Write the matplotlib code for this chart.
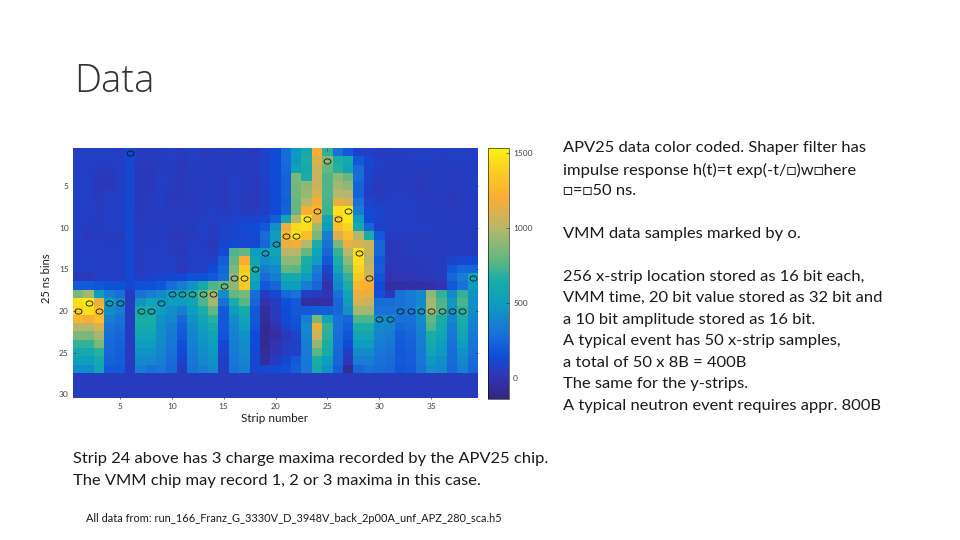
import numpy as np
import matplotlib
matplotlib.use('Agg')
import matplotlib.pyplot as plt
from matplotlib.colors import LinearSegmentedColormap
from matplotlib.markers import MarkerStyle
from matplotlib.transforms import Affine2D

plt.rcParams['font.family'] = ['Lato', 'DejaVu Sans']

# APV25 charge per time bin (rows) and strip (columns)
row_01 = [70,70,70,70,70,120,50,50,60,70,50,70,50,50,50,60,60,40,90,150,280,480,600,1200,700,300,200,90,70,60,60,70,70,70,70,70,70,70,70]
row_02 = [70,70,70,70,70,120,50,50,60,70,40,70,50,50,60,60,60,50,100,150,270,480,650,1100,880,650,600,200,120,70,70,60,70,80,70,60,70,70,70]
row_03 = [50,70,50,50,70,120,40,40,60,60,40,60,60,60,50,60,40,60,90,150,260,560,600,1050,800,680,560,270,100,70,60,60,60,50,50,60,60,60,60]
row_04 = [70,70,40,40,70,120,40,40,70,60,40,60,60,60,50,70,60,40,90,150,240,850,650,1050,760,900,800,280,90,60,60,60,60,50,60,60,60,60,70]
row_05 = [70,70,40,40,70,120,40,40,70,50,40,50,60,60,40,70,60,40,80,150,240,830,900,1050,760,950,900,240,80,40,60,60,50,40,60,60,60,60,70]
row_06 = [70,70,40,70,70,120,40,50,70,40,40,60,60,60,40,70,50,40,70,150,240,820,920,1100,750,1000,1000,240,80,50,60,70,50,40,60,60,40,60,60]
row_07 = [70,70,50,70,70,120,40,50,70,40,40,40,60,50,40,70,50,40,70,150,230,800,1000,1180,730,1150,1100,300,100,70,70,70,70,60,60,60,40,60,60]
row_08 = [70,70,50,70,70,120,40,60,60,50,50,50,60,70,50,70,60,50,80,150,240,800,1200,1250,720,1450,1480,350,130,100,80,70,70,60,60,60,50,60,60]
row_09 = [70,70,60,70,70,120,50,60,60,50,60,60,70,70,80,90,110,110,130,230,550,1000,1480,1150,550,1350,1480,500,150,100,80,70,70,60,60,60,60,60,60]
row_10 = [70,60,60,70,70,120,50,60,70,50,50,60,90,60,90,110,130,150,200,450,1150,1420,1450,950,500,1300,1400,600,250,90,80,70,70,70,70,60,60,60,60]
row_11 = [70,40,60,50,50,120,60,60,60,40,40,60,70,50,90,110,120,130,280,500,1250,1450,1300,850,350,1100,1300,1000,650,200,60,60,60,50,60,60,60,60,60]
row_12 = [70,70,70,60,80,120,60,60,70,50,50,70,60,40,110,130,130,130,250,480,1150,1200,1000,650,300,850,1150,1100,1050,250,40,40,60,50,60,60,60,60,60]
row_13 = [70,70,70,70,70,120,60,70,70,60,40,70,70,50,150,750,800,500,520,550,1000,1000,800,550,250,700,1000,1450,1050,250,40,40,50,50,50,60,60,60,60]
row_14 = [70,70,70,70,70,120,60,70,70,70,50,70,70,80,230,800,1200,550,450,500,900,900,650,500,200,650,900,1450,1000,200,30,30,40,50,50,60,100,120,130]
row_15 = [70,80,70,70,70,120,50,70,70,80,30,80,80,150,250,850,1350,650,350,400,800,780,600,350,100,550,800,1400,1050,220,20,30,40,40,50,60,200,260,260]
row_16 = [40,30,70,70,80,120,80,90,110,120,130,170,170,200,280,900,1400,580,280,350,600,600,500,300,50,450,700,1350,1100,180,0,10,20,30,30,50,250,350,550]
row_17 = [210,210,190,170,170,130,170,170,190,280,350,450,600,750,800,900,1350,500,200,250,500,500,350,250,-10,400,650,1250,1200,150,-40,-40,-30,-30,-20,0,200,300,500]
row_18 = [850,950,500,350,300,60,300,350,400,500,560,620,780,950,430,800,850,280,60,120,260,300,80,60,20,300,550,1150,1150,170,30,300,340,400,900,700,400,700,450]
row_19 = [1450,1500,1150,500,400,60,450,550,500,500,500,550,750,950,300,650,780,250,0,60,170,200,-40,-50,-30,250,520,1100,1050,280,280,300,330,400,950,750,480,750,430]
row_20 = [1400,1450,1300,430,350,60,620,620,500,430,350,500,650,800,200,500,620,200,-50,50,150,200,200,220,230,250,450,950,950,300,300,330,330,450,950,750,450,700,430]
row_21 = [1250,1200,1300,350,300,60,650,650,450,400,250,450,580,680,200,430,550,200,-60,30,150,180,350,850,550,300,250,750,750,430,430,300,300,430,800,650,400,650,380]
row_22 = [1000,1000,1100,300,280,60,620,620,430,350,230,400,520,620,200,380,500,180,-70,-20,100,170,400,1150,700,300,220,650,650,400,380,250,280,380,750,600,350,600,350]
row_23 = [850,850,950,280,250,60,550,550,420,330,200,380,480,560,180,360,450,150,-80,-40,30,100,380,1050,680,280,180,580,580,380,350,220,250,350,650,550,320,550,330]
row_24 = [700,700,850,260,240,60,500,500,400,320,170,360,450,520,130,340,420,140,-70,0,60,80,350,900,650,270,150,500,500,350,320,210,240,340,600,500,300,500,310]
row_25 = [600,600,680,250,230,60,450,450,380,300,150,340,430,480,100,330,400,130,-60,20,70,90,340,780,620,260,80,420,420,320,300,200,230,320,550,480,280,450,290]
row_26 = [520,520,600,240,220,60,400,400,360,280,100,320,400,450,80,320,380,130,-50,50,120,200,330,650,500,250,40,350,350,300,280,200,220,310,480,430,270,400,270]
row_27 = [420,420,550,200,200,60,350,300,320,260,60,300,350,400,70,300,350,120,130,140,170,220,320,600,450,230,-60,250,300,280,260,190,210,300,430,400,250,360,250]
row_28 = [55,55,55,55,55,55,55,55,55,55,55,55,55,55,55,55,55,55,55,55,55,55,55,55,55,55,55,55,55,55,55,55,55,55,55,55,55,55,55]
row_29 = [50,50,50,50,50,50,50,50,50,50,50,50,50,50,50,50,50,50,50,50,50,50,50,50,50,50,50,50,50,50,50,50,50,50,50,50,50,50,50]
row_30 = [50,50,50,50,50,50,50,50,50,50,50,50,50,50,50,50,50,50,50,50,50,50,50,50,50,50,50,50,50,50,50,50,50,50,50,50,50,50,50]

apv = np.array([row_01, row_02, row_03, row_04, row_05, row_06, row_07, row_08, row_09, row_10,
                row_11, row_12, row_13, row_14, row_15, row_16, row_17, row_18, row_19, row_20,
                row_21, row_22, row_23, row_24, row_25, row_26, row_27, row_28, row_29, row_30])

# VMM samples (the o markers)
vmm_strip = [1,2,3,4,5,6,7,8,9,10,11,12,13,14,15,16,17,18,19,20,21,22,23,24,25,26,27,28,29,30,31,32,33,34,35,36,37,38,39]
vmm_bin = [20,19,20,19,19,1,20,20,19,18,18,18,18,18,17,16,16,15,13,12,11,11,9,8,2,9,8,13,16,21,21,20,20,20,20,20,20,20,16]

strip_ticks = [5, 10, 15, 20, 25, 30, 35]
bin_ticks = [5, 10, 15, 20, 25, 30]
cbar_ticks = [0, 500, 1000, 1500]

# old parula look, colours taken from the colour bar
cols = [(0.20, 0.15, 0.50), (0.20, 0.20, 0.70), (0.06, 0.30, 0.85), (0.10, 0.45, 0.85),
        (0.05, 0.62, 0.75), (0.10, 0.68, 0.65), (0.40, 0.72, 0.50), (0.72, 0.72, 0.42),
        (0.98, 0.68, 0.20), (0.98, 0.78, 0.15), (0.98, 0.95, 0.08)]
levels = [-133, 0, 150, 300, 500, 650, 800, 1000, 1200, 1350, 1527]
vmin, vmax = -133, 1527
nodes = [(v - vmin) / (vmax - vmin) for v in levels]
parula = LinearSegmentedColormap.from_list('parula_old', list(zip(nodes, cols)))

W, H = 960, 540
fig = plt.figure(figsize=(W / 100, H / 100), dpi=100)

def px_axes(x0, y0, x1, y1):
    return fig.add_axes([x0 / W, 1 - y1 / H, (x1 - x0) / W, (y1 - y0) / H])

def slide_text(x, y, s, size=11.85, color='#1a1a1a', **kw):
    fig.text(x / W, 1 - y / H, s, fontsize=size, va='center', ha=kw.pop('ha', 'left'), color=color, **kw)

ax = px_axes(73, 148.5, 478, 398.5)
im = ax.imshow(apv, cmap=parula, vmin=vmin, vmax=vmax, aspect='auto', interpolation='nearest',
               extent=[0.5, 39.5, 30.5, 0.5])
# the slide stretched the plot, so the circles are a little flat
flat_o = MarkerStyle('o', fillstyle='none', transform=Affine2D().scale(1, 0.75))
ax.plot(vmm_strip, vmm_bin, marker=flat_o, mec='#111111', mew=0.6, ms=5.0, ls='none')
ax.set_xlim(0.5, 39.5)
ax.set_ylim(30.5, 0.5)
ax.set_xticks(strip_ticks)
ax.set_yticks(bin_ticks)
ax.tick_params(direction='in', length=2.5, width=0.5, labelsize=6, colors='#444444', top=True, right=True, pad=3)
for s in ax.spines.values():
    s.set_visible(False)

cax = px_axes(488, 148.5, 509, 398.5)
cb = fig.colorbar(im, cax=cax)
cb.set_ticks(cbar_ticks)
cb.ax.tick_params(direction='in', length=2, width=0.5, labelsize=6, colors='#444444', pad=3)
cb.outline.set_linewidth(0.4)

slide_text(74, 82, 'Data', size=27.5, color='#333333', family=['Open Sans', 'DejaVu Sans'], fontweight='light')
slide_text(47, 278, '25 ns bins', size=8, rotation=90, ha='center')
slide_text(275, 418, 'Strip number', size=8.4, ha='center')

slide_text(563, 148, 'APV25 data color coded. Shaper filter has')
slide_text(563, 170, 'impulse response h(t)=t exp(-t/\u25a1)w\u25a1here')
slide_text(563, 191, '\u25a1=\u25a150 ns.')
slide_text(563, 234, 'VMM data samples marked by o.')

right_lines = ['256 x-strip location stored as 16 bit each,',
               'VMM time, 20 bit value stored as 32 bit and',
               'a 10 bit amplitude stored as 16 bit.',
               'A typical event has 50 x-strip samples,',
               'a total of 50 x 8B = 400B',
               'The same for the y-strips.',
               'A typical neutron event requires appr. 800B']
right_y = [277, 298, 320, 341, 363, 384, 406]
for yy, line in zip(right_y, right_lines):
    slide_text(563, yy, line)

slide_text(73, 459, 'Strip 24 above has 3 charge maxima recorded by the APV25 chip.')
slide_text(73, 481, 'The VMM chip may record 1, 2 or 3 maxima in this case.')
slide_text(86, 519, 'All data from: run_166_Franz_G_3330V_D_3948V_back_2p00A_unf_APZ_280_sca.h5', size=7.95)

fig.savefig('out.png', dpi=100)
